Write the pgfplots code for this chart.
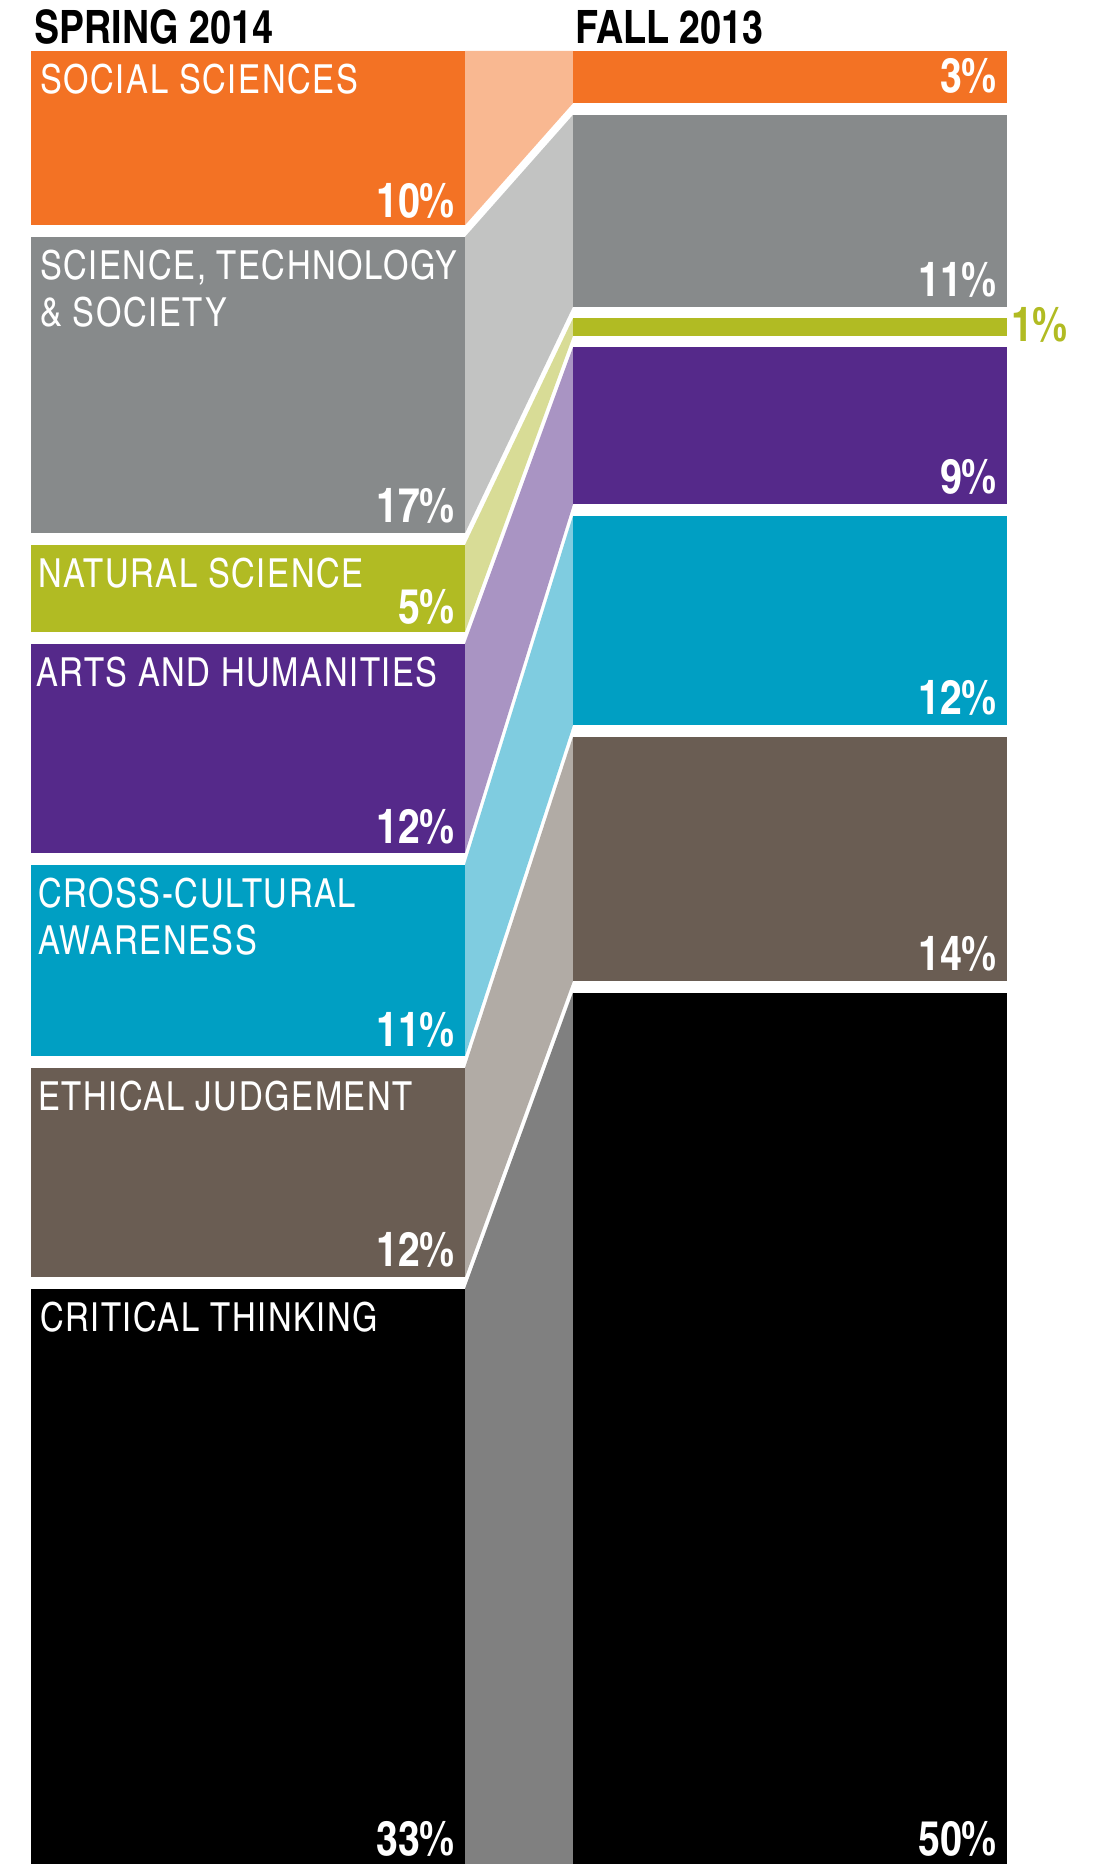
\documentclass[border=0pt]{standalone}
\usepackage{fontspec}
\setmainfont{texgyreheroscn}[Extension=.otf, UprightFont=*-regular, BoldFont=*-bold]
\newfontfamily\spaced{texgyreheroscn}[Extension=.otf, UprightFont=*-regular, LetterSpace=4]
\usepackage{pgfplots}
\pgfplotsset{compat=1.18}
\definecolor{cSS}{HTML}{F37224}\definecolor{fSS}{HTML}{F9B891}
\definecolor{cST}{HTML}{878A8B}\definecolor{fST}{HTML}{C2C3C2}
\definecolor{cNS}{HTML}{B1BB23}\definecolor{fNS}{HTML}{D8DC96}
\definecolor{cAH}{HTML}{55298A}\definecolor{fAH}{HTML}{A994C3}
\definecolor{cCC}{HTML}{009FC3}\definecolor{fCC}{HTML}{7FCCE0}
\definecolor{cEJ}{HTML}{6A5D53}\definecolor{fEJ}{HTML}{B1ABA5}
\definecolor{cCT}{HTML}{000000}\definecolor{fCT}{HTML}{808080}
\newcommand{\lab}{\spaced\fontsize{20bp}{24bp}\selectfont}
\newcommand{\pct}{\fontsize{24bp}{26bp}\selectfont\bfseries}
\newcommand{\ttl}{\fontsize{23bp}{26bp}\selectfont\bfseries}
\begin{document}
\begin{tikzpicture}
\begin{axis}[
  width=550bp, height=932bp, scale only axis,
  xmin=0, xmax=1100, ymin=-2.92, ymax=104.03, y dir=reverse,
  hide axis, clip=true,
  every node/.style={inner sep=0pt, outer sep=0pt},
]
% ---- flows (Spring 2014 -> Fall 2013)
\addplot[fill=fSS, draw=none] coordinates {(465,0) (573,0) (573,3) (465,10)};
\addplot[fill=fST, draw=none] coordinates {(465,10.671) (573,3.671) (573,14.671) (465,27.671)};
\addplot[fill=fNS, draw=none] coordinates {(465,28.342) (573,15.342) (573,16.342) (465,33.342)};
\addplot[fill=fAH, draw=none] coordinates {(465,34.013) (573,17.013) (573,26.013) (465,46.013)};
\addplot[fill=fCC, draw=none] coordinates {(465,46.684) (573,26.684) (573,38.684) (465,57.684)};
\addplot[fill=fEJ, draw=none] coordinates {(465,58.355) (573,39.355) (573,53.355) (465,70.355)};
\addplot[fill=fCT, draw=none] coordinates {(465,71.026) (573,54.026) (573,104.03) (465,104.03)};
% ---- Spring 2014 bars: 10, 17, 5, 12, 11, 12, 33
\addplot[fill=cSS, draw=none] coordinates {(31,0) (465,0) (465,10) (31,10)};
\addplot[fill=cST, draw=none] coordinates {(31,10.671) (465,10.671) (465,27.671) (31,27.671)};
\addplot[fill=cNS, draw=none] coordinates {(31,28.342) (465,28.342) (465,33.342) (31,33.342)};
\addplot[fill=cAH, draw=none] coordinates {(31,34.013) (465,34.013) (465,46.013) (31,46.013)};
\addplot[fill=cCC, draw=none] coordinates {(31,46.684) (465,46.684) (465,57.684) (31,57.684)};
\addplot[fill=cEJ, draw=none] coordinates {(31,58.355) (465,58.355) (465,70.355) (31,70.355)};
\addplot[fill=cCT, draw=none] coordinates {(31,71.026) (465,71.026) (465,104.03) (31,104.03)};
% ---- Fall 2013 bars: 3, 11, 1, 9, 12, 14, 50
\addplot[fill=cSS, draw=none] coordinates {(573,0) (1007,0) (1007,3) (573,3)};
\addplot[fill=cST, draw=none] coordinates {(573,3.671) (1007,3.671) (1007,14.671) (573,14.671)};
\addplot[fill=cNS, draw=none] coordinates {(573,15.342) (1007,15.342) (1007,16.342) (573,16.342)};
\addplot[fill=cAH, draw=none] coordinates {(573,17.013) (1007,17.013) (1007,26.013) (573,26.013)};
\addplot[fill=cCC, draw=none] coordinates {(573,26.684) (1007,26.684) (1007,38.684) (573,38.684)};
\addplot[fill=cEJ, draw=none] coordinates {(573,39.355) (1007,39.355) (1007,53.355) (573,53.355)};
\addplot[fill=cCT, draw=none] coordinates {(573,54.026) (1007,54.026) (1007,104.03) (573,104.03)};
% ---- titles
\node[anchor=base west] at (axis cs:27,-0.45) {\ttl SPRING 2014};
\node[anchor=base west] at (axis cs:568,-0.45) {\ttl FALL 2013};
% ---- category labels
\node[anchor=base west, text=white] at (axis cs:33,2.47) {\lab SOCIAL SCIENCES};
\node[anchor=base west, text=white] at (axis cs:33,13.14) {\lab SCIENCE, TECHNOLOGY};
\node[anchor=base west, text=white] at (axis cs:33,15.84) {\lab \& SOCIETY};
\node[anchor=base west, text=white] at (axis cs:31,30.80) {\lab NATURAL SCIENCE};
\node[anchor=base west, text=white] at (axis cs:29,36.48) {\lab ARTS AND HUMANITIES};
\node[anchor=base west, text=white] at (axis cs:31,49.15) {\lab CROSS-CULTURAL};
\node[anchor=base west, text=white] at (axis cs:31,51.85) {\lab AWARENESS};
\node[anchor=base west, text=white] at (axis cs:31,60.82) {\lab ETHICAL JUDGEMENT};
\node[anchor=base west, text=white] at (axis cs:33,73.50) {\lab CRITICAL THINKING};
% ---- percentages, Spring 2014
\node[anchor=base east, text=white] at (axis cs:462,9.55) {\pct 10\%};
\node[anchor=base east, text=white] at (axis cs:462,27.07) {\pct 17\%};
\node[anchor=base east, text=white] at (axis cs:462,32.84) {\pct 5\%};
\node[anchor=base east, text=white] at (axis cs:462,45.45) {\pct 12\%};
\node[anchor=base east, text=white] at (axis cs:462,57.12) {\pct 11\%};
\node[anchor=base east, text=white] at (axis cs:462,69.75) {\pct 12\%};
\node[anchor=base east, text=white] at (axis cs:462,103.56) {\pct 33\%};
% ---- percentages, Fall 2013
\node[anchor=base east, text=white] at (axis cs:1004,2.4) {\pct 3\%};
\node[anchor=base east, text=white] at (axis cs:1004,14.07) {\pct 11\%};
\node[anchor=base west, text=cNS] at (axis cs:1004,16.67) {\pct 1\%};
\node[anchor=base east, text=white] at (axis cs:1004,25.41) {\pct 9\%};
\node[anchor=base east, text=white] at (axis cs:1004,38.08) {\pct 12\%};
\node[anchor=base east, text=white] at (axis cs:1004,52.75) {\pct 14\%};
\node[anchor=base east, text=white] at (axis cs:1004,103.56) {\pct 50\%};
\end{axis}
\pgfresetboundingbox
\path (0,0) rectangle (550bp,932bp);
\end{tikzpicture}
\end{document}
